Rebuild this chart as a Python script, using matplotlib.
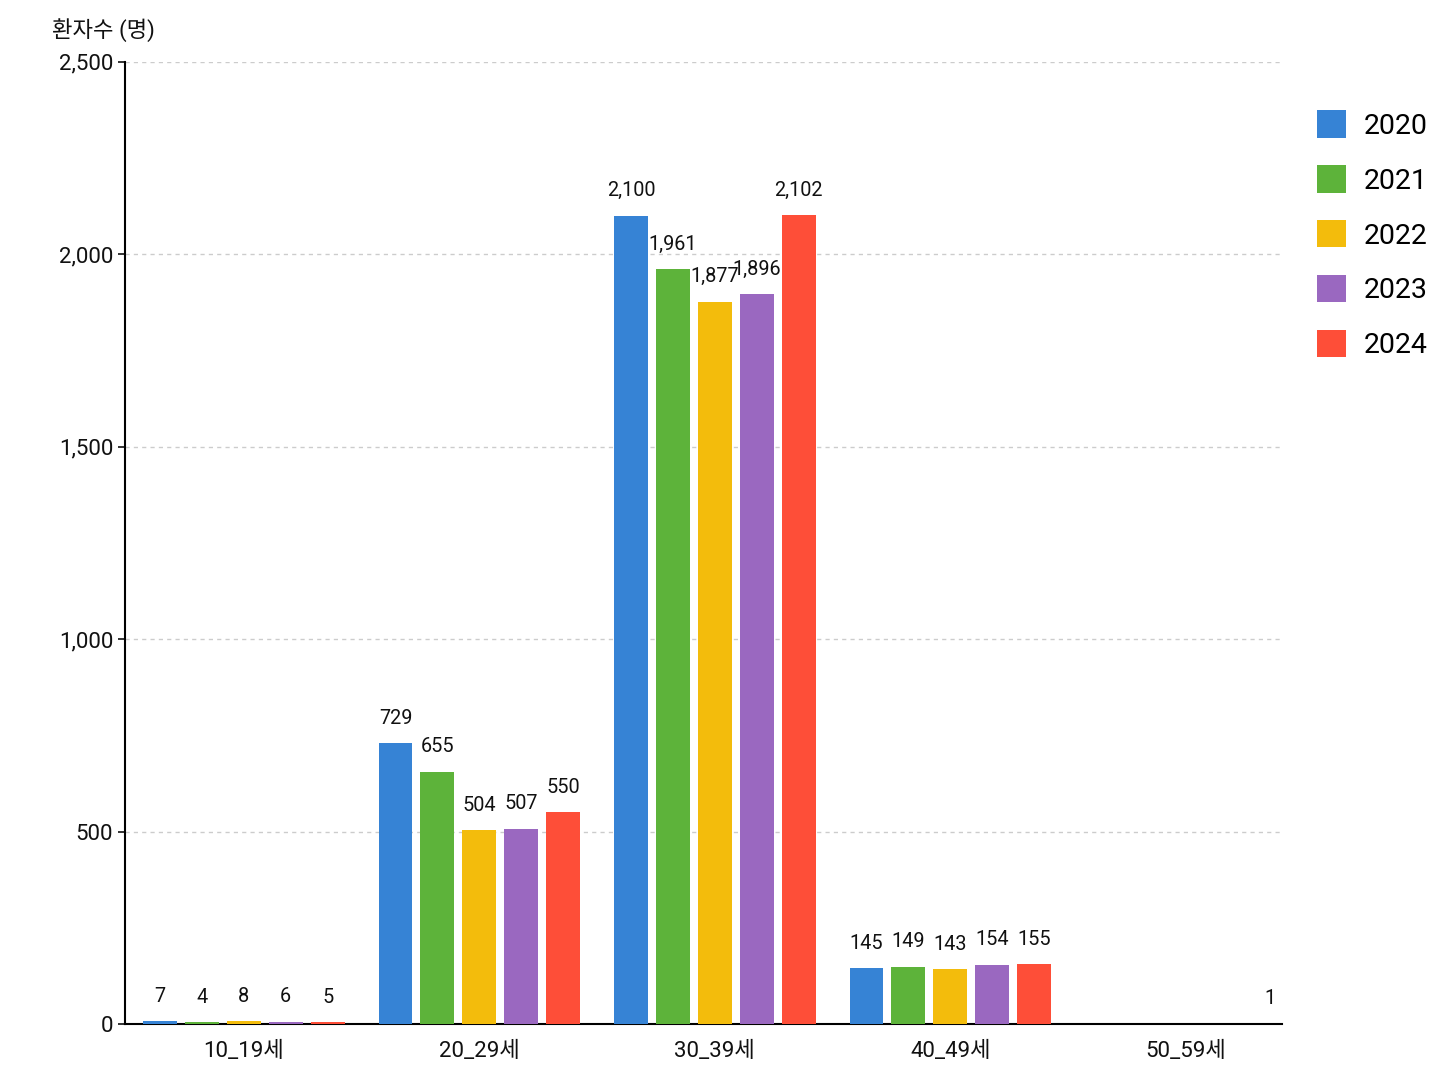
import matplotlib.pyplot as plt
import numpy as np

plt.rcParams['font.family'] = ['Roboto', 'Noto Sans CJK KR', 'DejaVu Sans']

groups = ["10_19세", "20_29세", "30_39세", "40_49세", "50_59세"]
years = ["2020", "2021", "2022", "2023", "2024"]
values = {
    "2020": [7, 729, 2100, 145, np.nan],
    "2021": [4, 655, 1961, 149, np.nan],
    "2022": [8, 504, 1877, 143, np.nan],
    "2023": [6, 507, 1896, 154, np.nan],
    "2024": [5, 550, 2102, 155, 1],
}
colors = ["#3683D5", "#5DB33A", "#F3BC0C", "#9A68C0", "#FE4E38"]

fig = plt.figure(figsize=(14.48, 10.86), dpi=100)
ax = fig.add_axes([0.0863, 0.0571, 0.799, 0.886])

x = np.arange(len(groups))
step = 0.178
width = 0.144

for i, year in enumerate(years):
    vals = np.array(values[year], dtype=float)
    pos = x + (i - 2) * step
    ax.bar(pos, vals, width=width, color=colors[i], label=year, zorder=3)
    for p, v in zip(pos, vals):
        if np.isnan(v):
            continue
        ax.text(p, v + 40, f"{int(v):,}", ha="center", va="bottom",
                fontsize=14.3, color="#111111")

ax.set_xlim(-0.505, 4.408)
ax.set_ylim(0, 2500)
ax.set_yticks(range(0, 2501, 500))
ax.set_yticklabels([f"{v:,}" for v in range(0, 2501, 500)])
ax.set_xticks(x)
ax.set_xticklabels(groups)
ax.tick_params(axis="y", labelsize=16, length=5, width=1.2, colors="#111111")
ax.tick_params(axis="x", labelsize=16, length=0, pad=12, colors="#111111")

ax.grid(axis="y", linestyle=(0, (3, 3)), color="#cccccc", linewidth=1, zorder=0)
ax.spines["top"].set_visible(False)
ax.spines["right"].set_visible(False)
ax.spines["left"].set_linewidth(1.5)
ax.spines["bottom"].set_linewidth(1.5)

fig.text(0.036, 0.972, "환자수 (명)", fontsize=16, ha="left", va="center", color="#111111")

ax.legend(loc="upper left", bbox_to_anchor=(0.902, 0.909), bbox_transform=fig.transFigure,
          frameon=False, fontsize=20.5, handlelength=1.0, handleheight=1.1,
          labelspacing=0.9, handletextpad=0.62, borderaxespad=0)

fig.savefig("out.png", dpi=100, facecolor="white")
